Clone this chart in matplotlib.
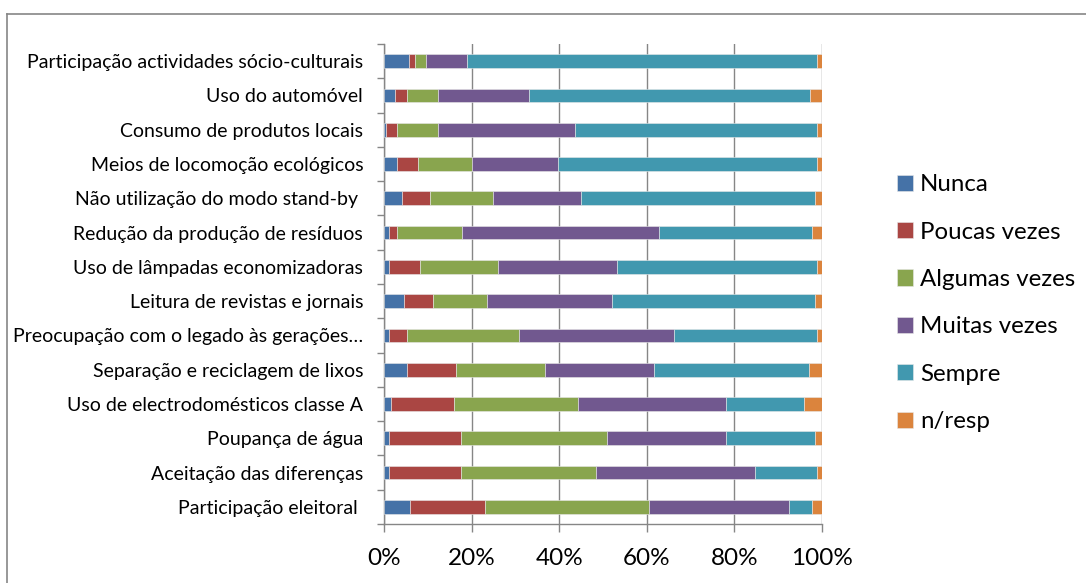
import matplotlib.pyplot as plt
import numpy as np
from matplotlib.lines import Line2D
from matplotlib.ticker import FixedLocator, PercentFormatter

plt.rcParams["font.family"] = ["Lato", "DejaVu Sans"]

# categories listed bottom -> top, as drawn
categories = [
    "Participação eleitoral ",
    "Aceitação das diferenças",
    "Poupança de água",
    "Uso de electrodomésticos classe A",
    "Separação e reciclagem de lixos",
    "Preocupação com o legado às gerações…",
    "Leitura de revistas e jornais",
    "Uso de lâmpadas economizadoras",
    "Redução da produção de resíduos",
    "Não utilização do modo stand-by ",
    "Meios de locomoção ecológicos",
    "Consumo de produtos locais",
    "Uso do automóvel",
    "Participação actividades sócio-culturais",
]

nunca = [5.9, 1.1, 1.1, 1.7, 5.3, 1.1, 4.6, 1.1, 1.1, 4.1, 3.0, 0.5, 2.4, 5.8]
poucas = [17.2, 16.4, 16.4, 14.3, 11.2, 4.1, 6.5, 7.1, 1.8, 6.5, 4.7, 2.4, 2.9, 1.2]
algumas = [37.3, 31.0, 33.4, 28.4, 20.2, 25.6, 12.5, 17.8, 14.8, 14.3, 12.4, 9.4, 7.1, 2.5]
muitas = [32.0, 36.2, 27.1, 33.7, 24.9, 35.4, 28.4, 27.1, 45.1, 20.2, 19.6, 31.3, 20.8, 9.4]
sempre = [5.3, 14.1, 20.3, 17.8, 35.5, 32.5, 46.3, 45.6, 34.9, 53.4, 59.1, 55.1, 64.0, 79.8]
n_resp = [2.3, 1.2, 1.6, 4.1, 2.9, 1.2, 1.6, 1.2, 2.3, 1.6, 1.2, 1.2, 2.8, 1.2]

series_names = ["Nunca", "Poucas vezes", "Algumas vezes", "Muitas vezes", "Sempre", "n/resp"]
series_colors = ["#4572A7", "#AA4643", "#89A54E", "#71588F", "#4198AF", "#DB843D"]

values = np.array([nunca, poucas, algumas, muitas, sempre, n_resp], dtype=float)
shares = values / values.sum(axis=0) * 100

fig = plt.figure(figsize=(10.86, 5.83), dpi=100)
ax = fig.add_axes([0.3536, 0.1012, 0.4033, 0.8233])

y = np.arange(len(categories))
left = np.zeros(len(categories))
handles = []
for name, color, row in zip(series_names, series_colors, shares):
    bars = ax.barh(y, row, left=left, height=0.4, color=color,
                   edgecolor="#e8e8e8", linewidth=0.4, label=name, zorder=3)
    handles.append(bars)
    left += row

ax.set_xlim(0, 100)
ax.set_ylim(-0.5, len(categories) - 0.5)
ax.set_xticks(np.arange(0, 101, 20))
ax.xaxis.set_major_formatter(PercentFormatter(decimals=0))
ax.set_yticks(y)
ax.set_yticklabels(categories, fontsize=14)
ax.yaxis.set_minor_locator(FixedLocator(np.arange(-0.5, len(categories), 1)))
ax.tick_params(axis="y", which="major", length=0, pad=15)
ax.tick_params(axis="y", which="minor", length=5, width=1, color="#868686", direction="out")
ax.tick_params(axis="x", length=6, width=1, color="#868686", direction="out",
               labelsize=17.5, pad=11)

ax.grid(axis="x", color="#868686", linewidth=1.0, zorder=0)
for side in ("top", "right"):
    ax.spines[side].set_visible(False)
for side in ("left", "bottom"):
    ax.spines[side].set_color("#868686")
    ax.spines[side].set_linewidth(1.0)

leg = fig.legend(handles=handles, labels=series_names, loc="center left",
                 bbox_to_anchor=(0.806, 0.48), frameon=False, fontsize=17.3,
                 handlelength=0.65, handleheight=0.65, handletextpad=0.3,
                 labelspacing=1.1)

# chart-area border (top and left edges visible in the crop)
fig.add_artist(Line2D([0.0065, 1.0], [0.976, 0.976], transform=fig.transFigure,
                      color="#868686", linewidth=1.2))
fig.add_artist(Line2D([0.0065, 0.0065], [0.0, 0.976], transform=fig.transFigure,
                      color="#868686", linewidth=1.2))

fig.savefig("out.png", dpi=100)
